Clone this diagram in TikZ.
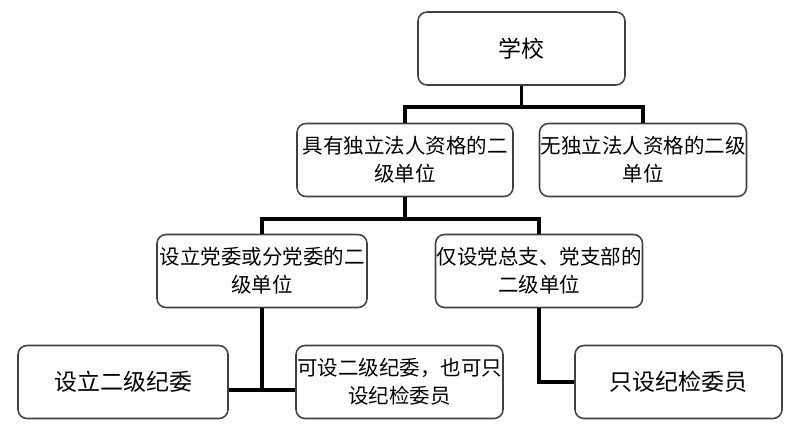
\documentclass[tikz,border=0pt]{standalone}
\usepackage{fontspec}
\setmainfont{Noto Sans CJK SC}
\usepackage{tikz}
\usetikzlibrary{calc}
\tikzset{
	unit/.style={draw=black!75, line width=0.55mm, rounded corners=9pt, fill=white, align=center, inner xsep=0pt, inner ysep=2pt, minimum width=207pt, minimum height=73pt, font=\fontsize{20.5}{28}\selectfont},
	bigunit/.style={unit, font=\fontsize{23}{28}\selectfont},
	link/.style={line width=3.5pt, color=black}
}

\begin{document}
\begin{tikzpicture}[x=1pt, y=-1pt]
			%%%%% START %%%%%
			
			\useasboundingbox (0, 0) rectangle (800, 444);
			
			\node[bigunit] (school) at (521.5, 48.5) {学校};
			
			\node[unit, minimum width=216pt] (legal) at (405, 160) {具有独立法人资格的二\\级单位};
			\node[unit] (nolegal) at (643, 160) {无独立法人资格的二级\\单位};
			
			\node[unit, minimum width=210pt] (partycom) at (262, 271) {设立党委或分党委的二\\级单位};
			\node[unit] (branch) at (539, 271) {仅设党总支、党支部的\\二级单位};
			
			\node[bigunit, minimum width=210pt] (discom) at (123, 382) {设立二级纪委};
			\node[unit] (either) at (399.5, 382) {可设二级纪委，也可只\\设纪检委员};
			\node[bigunit] (member) at (678.5, 382) {只设纪检委员};
			
			\coordinate (j1) at (521.5, 107);
			\coordinate (j2) at (405, 219);
			\coordinate (j3) at (262, 390);
			
			\draw[link] (school) -- (j1);
			\draw[link] (legal.north) |- (j1) -| (nolegal.north);
			
			\draw[link] (legal) -- (j2);
			\draw[link] (partycom.north) |- (j2) -| (branch.north);
			
			\draw[link] (partycom) -- (j3);
			\draw[link] (discom.east |- j3) -- (either.west |- j3);
			
			\draw[link] (branch) |- (member);
			
			%%%%% END %%%%%
\end{tikzpicture}
\end{document}
